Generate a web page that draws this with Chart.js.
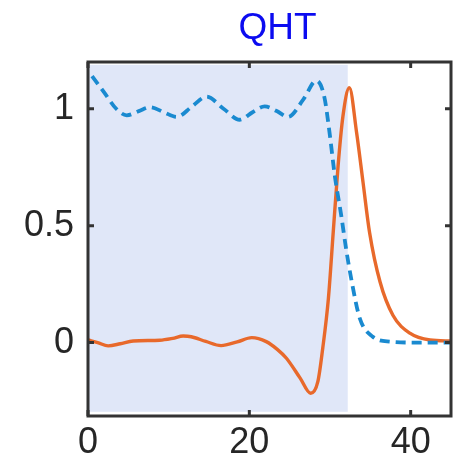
<!DOCTYPE html>
<html lang="en">

<head>
    <meta charset="UTF-8">
    <title>QHT</title>
    <script src="https://cdn.jsdelivr.net/npm/chart.js"></script>
    <style>
        html, body { margin: 0; padding: 0; background: #fff; }
        #wrap { width: 453px; height: 456px; }
    </style>
</head>

<body>
    <div id="wrap">
        <canvas id="myChart" width="453" height="456"></canvas>
    </div>

    <script>
        // values
        const titleText = 'QHT';
        const dashedX = [0.5, 2, 3.5, 4.8, 6.3, 7.7, 9.4, 11.0, 12.9, 14.7, 16.8, 18.8, 20.4, 21.9, 23.4, 24.8, 26.7, 28.3, 29.3, 30.0, 30.6, 31.4, 32.0, 32.7, 33.7, 35.3, 37.4, 41, 45];
        const dashedY = [1.14, 1.07, 1.0, 0.972, 0.99, 1.007, 0.985, 0.965, 1.01, 1.052, 1.0, 0.953, 0.985, 1.01, 0.99, 0.965, 1.04, 1.12, 1.05, 0.882, 0.712, 0.542, 0.40, 0.26, 0.103, 0.025, 0.004, 0.0, 0.0];
        const solidX = [0, 1.2, 2.5, 4, 5.6, 8.9, 10.5, 11.8, 12.8, 14.6, 16.5, 18.5, 20.3, 22.1, 23.5, 24.6, 26.3, 27.6, 28.5, 29.1, 29.8, 30.4, 31.0, 31.6, 32.4, 33.3, 34.1, 34.9, 36.2, 37.8, 39.9, 42.4, 45];
        const solidY = [0.011, 0.0, -0.014, -0.005, 0.007, 0.01, 0.018, 0.028, 0.025, 0.005, -0.013, 0.003, 0.021, 0.004, -0.03, -0.067, -0.152, -0.217, -0.166, -0.024, 0.188, 0.472, 0.755, 0.967, 1.09, 0.897, 0.684, 0.472, 0.26, 0.117, 0.04, 0.011, 0.007];
        const shadeX = [0, 32.2];
        const shadeY = [-0.296, 1.188];
        const xTicks = [0, 20, 40];
        const yTicks = [0, 0.5, 1];
        const xRange = [0, 45];
        const yRange = [-0.314, 1.2];

        const axisColor = '#333333';
        const textColor = '#262626';

        function toPoints(xs, ys) {
            return xs.map(function (x, i) {
                return { x: x, y: ys[i] };
            });
        }

        // shaded band, axes box with inward ticks, title
        const decor = {
            id: 'decor',
            beforeDatasetsDraw(chart) {
                const ctx = chart.ctx;
                const xs = chart.scales.x, ys = chart.scales.y;
                const x0 = xs.getPixelForValue(shadeX[0]), x1 = xs.getPixelForValue(shadeX[1]);
                const y0 = ys.getPixelForValue(shadeY[1]), y1 = ys.getPixelForValue(shadeY[0]);
                ctx.save();
                ctx.fillStyle = '#e0e7f8';
                ctx.fillRect(x0, y0, x1 - x0, y1 - y0);
                ctx.restore();
            },
            afterDatasetsDraw(chart) {
                const ctx = chart.ctx;
                const a = chart.chartArea;
                const xs = chart.scales.x, ys = chart.scales.y;
                ctx.save();
                ctx.strokeStyle = axisColor;
                ctx.lineWidth = 3;
                ctx.strokeRect(a.left, a.top, a.right - a.left, a.bottom - a.top);
                ctx.beginPath();
                xTicks.forEach(function (v) {
                    const px = xs.getPixelForValue(v);
                    ctx.moveTo(px, a.bottom); ctx.lineTo(px, a.bottom - 6);
                    ctx.moveTo(px, a.top); ctx.lineTo(px, a.top + 6);
                });
                yTicks.forEach(function (v) {
                    const py = ys.getPixelForValue(v);
                    ctx.moveTo(a.left, py); ctx.lineTo(a.left + 6, py);
                    ctx.moveTo(a.right, py); ctx.lineTo(a.right - 6, py);
                });
                ctx.stroke();

                ctx.fillStyle = '#0b0bf0';
                ctx.font = '37px "Liberation Sans", Arial, sans-serif';
                ctx.textAlign = 'center';
                ctx.textBaseline = 'middle';
                ctx.fillText(titleText, (a.left + a.right) / 2 + 8, 29);
                ctx.restore();
            }
        };

        const data = {
            datasets: [
                {
                    label: 'dashed',
                    data: toPoints(dashedX, dashedY),
                    borderColor: '#1a8ad0',
                    borderWidth: 3.8,
                    borderDash: [10, 6],
                    pointRadius: 0,
                    cubicInterpolationMode: 'monotone',
                    fill: false
                },
                {
                    label: 'solid',
                    data: toPoints(solidX, solidY),
                    borderColor: '#e8692b',
                    borderWidth: 3.4,
                    pointRadius: 0,
                    cubicInterpolationMode: 'monotone',
                    fill: false
                }
            ]
        };

        const tickFont = { family: '"Liberation Sans", Arial, sans-serif', size: 36 };

        const config = {
            type: 'line',
            data: data,
            plugins: [decor],
            options: {
                responsive: false,
                animation: false,
                layout: {
                    padding: { top: 62, right: 2, left: 0, bottom: 0 }
                },
                plugins: {
                    legend: { display: false },
                    tooltip: { enabled: false }
                },
                scales: {
                    x: {
                        type: 'linear',
                        min: xRange[0],
                        max: xRange[1],
                        border: { display: false },
                        grid: { display: false, drawTicks: false },
                        afterBuildTicks: function (s) {
                            s.ticks = xTicks.map(function (v) { return { value: v }; });
                        },
                        afterFit: function (s) { s.height = 40; },
                        ticks: { font: tickFont, color: textColor, padding: 5, maxRotation: 0 }
                    },
                    y: {
                        type: 'linear',
                        min: yRange[0],
                        max: yRange[1],
                        border: { display: false },
                        grid: { display: false, drawTicks: false },
                        afterBuildTicks: function (s) {
                            s.ticks = yTicks.map(function (v) { return { value: v }; });
                        },
                        afterFit: function (s) { s.width = 88; },
                        ticks: {
                            font: tickFont, color: textColor, padding: 14,
                            callback: function (v) { return String(v); }
                        }
                    }
                }
            }
        };

        new Chart(document.getElementById('myChart'), config);
    </script>
</body>

</html>
